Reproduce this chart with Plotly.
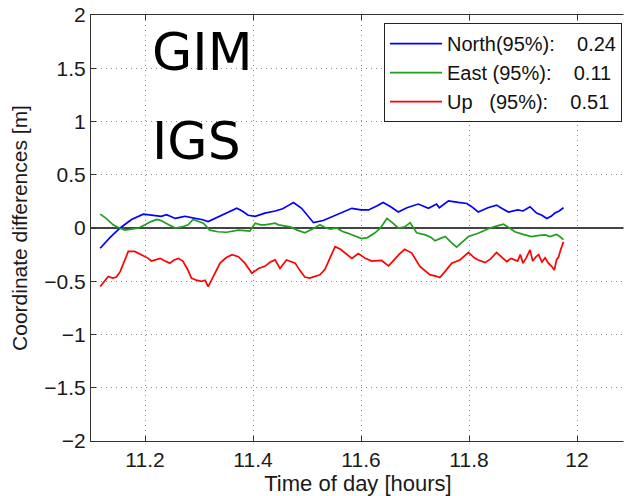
import plotly.graph_objects as go

# ---- data ----
north_t = [11.117, 11.135, 11.154, 11.175, 11.197, 11.21, 11.219, 11.23, 11.24, 11.256, 11.265, 11.274,
           11.293, 11.305, 11.317, 11.33, 11.342, 11.355, 11.370, 11.38, 11.391, 11.404, 11.422, 11.441,
           11.455, 11.465, 11.475, 11.49, 11.50, 11.512, 11.53, 11.552, 11.565, 11.583, 11.60, 11.614,
           11.63, 11.641, 11.655, 11.669, 11.685, 11.706, 11.725, 11.74, 11.745, 11.762, 11.78, 11.796,
           11.805, 11.817, 11.835, 11.851, 11.862, 11.873, 11.89, 11.90, 11.913, 11.925, 11.935, 11.944,
           11.952, 11.959, 11.967, 11.975]
north_v = [-0.19, -0.09, 0.0, 0.08, 0.13, 0.12, 0.12, 0.11, 0.125, 0.09, 0.10, 0.11,
           0.09, 0.08, 0.06, 0.09, 0.12, 0.15, 0.185, 0.16, 0.12, 0.11, 0.14, 0.16,
           0.18, 0.21, 0.24, 0.185, 0.12, 0.05, 0.07, 0.12, 0.15, 0.185, 0.17, 0.17,
           0.21, 0.24, 0.20, 0.15, 0.19, 0.225, 0.185, 0.225, 0.19, 0.255, 0.24, 0.23,
           0.20, 0.15, 0.19, 0.215, 0.18, 0.15, 0.17, 0.16, 0.20, 0.14, 0.12, 0.09,
           0.11, 0.14, 0.16, 0.19]

east_t = [11.117, 11.128, 11.141, 11.152, 11.163, 11.175, 11.188, 11.2, 11.211, 11.222, 11.23, 11.237,
          11.247, 11.256, 11.268, 11.28, 11.289, 11.298, 11.308, 11.32, 11.335, 11.351, 11.362, 11.373,
          11.385, 11.394, 11.404, 11.414, 11.422, 11.432, 11.441, 11.447, 11.458, 11.469, 11.482, 11.496,
          11.51, 11.524, 11.535, 11.543, 11.555, 11.565, 11.576, 11.59, 11.601, 11.612, 11.626, 11.636,
          11.648, 11.658, 11.669, 11.681, 11.691, 11.703, 11.719, 11.73, 11.737, 11.746, 11.756, 11.766,
          11.777, 11.788, 11.799, 11.817, 11.839, 11.852, 11.864, 11.875, 11.885, 11.9, 11.916, 11.93,
          11.941, 11.95, 11.962, 11.968, 11.975]
east_v = [0.13, 0.09, 0.03, 0.0, -0.02, -0.01, 0.0, 0.03, 0.06, 0.08, 0.07, 0.05,
          0.02, 0.0, 0.01, 0.03, 0.08, 0.06, 0.045, -0.02, -0.035, -0.04, -0.03, -0.02,
          -0.025, -0.03, 0.045, 0.03, 0.03, 0.04, 0.045, 0.03, 0.02, 0.01, -0.02, -0.045,
          -0.01, 0.03, 0.0, -0.01, 0.0, -0.03, -0.05, -0.08, -0.10, -0.09, -0.045, 0.0,
          0.09, 0.05, 0.0, 0.01, 0.05, -0.045, -0.065, -0.09, -0.12, -0.10, -0.08, -0.13,
          -0.18, -0.13, -0.08, -0.05, 0.0, 0.02, 0.035, 0.0, -0.035, -0.06, -0.08, -0.07,
          -0.065, -0.08, -0.06, -0.08, -0.11]

up_t = [11.117, 11.125, 11.132, 11.14, 11.147, 11.154, 11.162, 11.169, 11.181, 11.193, 11.206, 11.212,
        11.219, 11.228, 11.237, 11.246, 11.254, 11.262, 11.27, 11.278, 11.286, 11.295, 11.305, 11.311,
        11.317, 11.328, 11.339, 11.35, 11.361, 11.373, 11.385, 11.398, 11.41, 11.422, 11.432, 11.441,
        11.45, 11.462, 11.478, 11.487, 11.496, 11.505, 11.524, 11.533, 11.543, 11.552, 11.562, 11.583,
        11.595, 11.608, 11.62, 11.638, 11.651, 11.663, 11.672, 11.681, 11.694, 11.709, 11.728, 11.737,
        11.746, 11.757, 11.768, 11.783, 11.799, 11.81, 11.817, 11.83, 11.84, 11.851, 11.86, 11.87,
        11.878, 11.89, 11.895, 11.9, 11.906, 11.913, 11.918, 11.924, 11.929, 11.935, 11.941, 11.947,
        11.953, 11.958, 11.962, 11.966, 11.97, 11.975]
up_v = [-0.55, -0.50, -0.455, -0.47, -0.46, -0.41, -0.30, -0.22, -0.22, -0.25, -0.285, -0.31,
        -0.30, -0.285, -0.31, -0.33, -0.30, -0.285, -0.31, -0.38, -0.47, -0.49, -0.50, -0.49,
        -0.55, -0.44, -0.33, -0.28, -0.25, -0.27, -0.33, -0.425, -0.38, -0.36, -0.32, -0.30,
        -0.38, -0.30, -0.33, -0.40, -0.46, -0.47, -0.44, -0.39, -0.28, -0.175, -0.20, -0.285,
        -0.24, -0.285, -0.31, -0.305, -0.355, -0.285, -0.24, -0.20, -0.235, -0.36, -0.44, -0.45,
        -0.465, -0.40, -0.33, -0.30, -0.23, -0.28, -0.30, -0.325, -0.29, -0.23, -0.27, -0.315,
        -0.285, -0.31, -0.25, -0.33, -0.28, -0.205, -0.31, -0.27, -0.25, -0.32, -0.28, -0.33,
        -0.36, -0.395, -0.30, -0.27, -0.20, -0.13]

series_names = ["North(95%):\u00a0\u00a0\u00a0\u00a00.24",
                "East\u00a0(95%):\u00a0\u00a0\u00a0\u00a00.11",
                "Up\u00a0\u00a0\u00a0(95%):\u00a0\u00a0\u00a0\u00a00.51"]
series_colors = ["#0000ff", "#1f9e1f", "#ff0000"]

x_ticks = [11.2, 11.4, 11.6, 11.8, 12.0]
x_tick_labels = ["11.2", "11.4", "11.6", "11.8", "12"]
y_ticks = [-2, -1.5, -1, -0.5, 0, 0.5, 1, 1.5, 2]
y_tick_labels = ["\u22122", "\u22121.5", "\u22121", "\u22120.5", "0", "0.5", "1", "1.5", "2"]

FONT = "Liberation Sans, Arial, Helvetica, sans-serif"

fig = go.Figure()
for t, v, name, col in zip([north_t, east_t, up_t], [north_v, east_v, up_v], series_names, series_colors):
    fig.add_trace(go.Scatter(x=t, y=v, mode="lines", name=name,
                             line=dict(color=col, width=1.7)))

W, H = 625, 496
L, R, T, B = 91, 0, 15, 55
x_range = [11.1, 11.1 + (W - L - R) / 540.0]

fig.update_layout(
    width=W, height=H,
    margin=dict(l=L, r=R, t=T, b=B, pad=0, autoexpand=False),
    paper_bgcolor="white", plot_bgcolor="white",
    font=dict(family=FONT, size=21, color="#1a1a1a"),
    showlegend=True,
    legend=dict(x=(622 - L) / (W - L - R), xanchor="right", y=0.981, yanchor="top",
                bgcolor="white", bordercolor="#222", borderwidth=1,
                font=dict(family=FONT, size=20, color="#111"),
                itemwidth=52, tracegroupgap=0),
    xaxis=dict(range=x_range, tickvals=x_ticks, ticktext=x_tick_labels, automargin=False,
               showgrid=True, gridcolor="#8a8a8a", griddash="1px,4px", gridwidth=1,
               showline=True, linecolor="#333", linewidth=1, mirror=False,
               ticks="inside", ticklen=5, tickcolor="#333",
               zeroline=False,
               title=dict(text="Time of day [hours]", font=dict(size=22), standoff=0),
               tickfont=dict(size=21)),
    xaxis2=dict(range=x_range, tickvals=x_ticks, showticklabels=False, overlaying="x",
                side="top", anchor="y", showgrid=False, zeroline=False, automargin=False,
                showline=True, linecolor="#333", linewidth=1,
                ticks="inside", ticklen=5, tickcolor="#333"),
    yaxis=dict(range=[-2, 2], tickvals=y_ticks, ticktext=y_tick_labels, automargin=False,
               showgrid=True, gridcolor="#8a8a8a", griddash="1px,4px", gridwidth=1,
               showline=True, linecolor="#333", linewidth=1, mirror=False,
               ticks="inside", ticklen=5, tickcolor="#333",
               zeroline=True, zerolinecolor="#444", zerolinewidth=2,
               title=dict(text="Coordinate differences [m]", font=dict(size=21), standoff=10),
               tickfont=dict(size=21)),
)
# invisible trace to activate the top mirror axis
fig.add_trace(go.Scatter(x=[north_t[0]], y=[north_v[0]], xaxis="x2", mode="lines",
                         showlegend=False, hoverinfo="skip", line=dict(width=0)))

# hide the 1px frame edge at the (cropped) right side of the plot area
fig.add_shape(type="line", xref="paper", yref="paper", x0=1, x1=1, y0=-0.01, y1=1.01,
              line=dict(color="white", width=3), layer="above")

fig.add_annotation(text="GIM", xref="paper", yref="paper", x=(150 - L) / (W - L - R), y=(441 - 52) / 426,
                   xanchor="left", yanchor="middle", showarrow=False,
                   font=dict(family="DejaVu Sans", size=52, color="black"))
fig.add_annotation(text="IGS", xref="paper", yref="paper", x=(150 - L) / (W - L - R), y=(441 - 141) / 426,
                   xanchor="left", yanchor="middle", showarrow=False,
                   font=dict(family="DejaVu Sans", size=52, color="black"))

fig.write_html("out.html")
